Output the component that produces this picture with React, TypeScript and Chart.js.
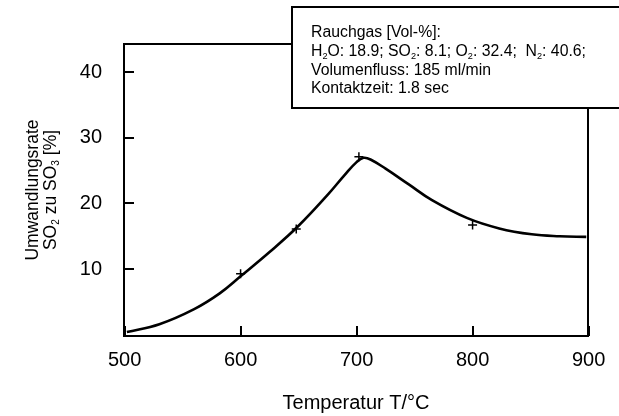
import React, { useEffect, useRef } from "react";
import { Chart, registerables } from "chart.js";

Chart.register(...registerables);

// ---- data ----
const curveT = [502, 530, 560, 582, 600, 625, 650, 675, 690, 700, 706, 712, 725, 745, 765, 795, 823, 851, 875, 898];
const curveRate = [0.4, 1.6, 3.9, 6.3, 8.9, 12.6, 16.6, 21.3, 24.4, 26.3, 26.95, 26.7, 25.3, 22.9, 20.5, 17.8, 16.2, 15.3, 15.0, 14.9];
const measT = [600, 648, 702, 800];
const measRate = [9.3, 16.1, 27.1, 16.7];
const xTicks = [500, 600, 700, 800, 900];
const yTicks = [10, 20, 30, 40];
const xTitle = "Temperatur T/°C";
const yTitleLines = ["Umwandlungsrate", "SO_2 zu SO_3 [%]"];
const boxLines = [
  "Rauchgas [Vol-%]:",
  "H_2O: 18.9; SO_2: 8.1; O_2: 32.4;  N_2: 40.6;",
  "Volumenfluss: 185 ml/min",
  "Kontaktzeit: 1.8 sec",
];

const FONT = '"Liberation Sans", Arial, Helvetica, sans-serif';

type Seg = { t: string; sub: boolean };
function parseRich(s: string): Seg[] {
  const segs: Seg[] = [];
  let buf = "";
  for (let i = 0; i < s.length; i++) {
    if (s[i] === "_" && i + 1 < s.length) {
      if (buf) segs.push({ t: buf, sub: false });
      buf = "";
      segs.push({ t: s[i + 1], sub: true });
      i++;
    } else buf += s[i];
  }
  if (buf) segs.push({ t: buf, sub: false });
  return segs;
}
function richWidth(ctx: CanvasRenderingContext2D, segs: Seg[], size: number) {
  let w = 0;
  for (const s of segs) {
    ctx.font = `${s.sub ? size * 0.58 : size}px ${FONT}`;
    w += ctx.measureText(s.t).width;
  }
  return w;
}
function drawRich(ctx: CanvasRenderingContext2D, segs: Seg[], x: number, y: number, size: number) {
  let cx = x;
  for (const s of segs) {
    ctx.font = `${s.sub ? size * 0.58 : size}px ${FONT}`;
    ctx.fillText(s.t, cx, s.sub ? y + size * 0.22 : y);
    cx += ctx.measureText(s.t).width;
  }
}

const framePlugin = {
  id: "frameAndNotes",
  afterDraw(chart: any) {
    const ctx: CanvasRenderingContext2D = chart.ctx;
    const { left, right, top, bottom } = chart.chartArea;
    const xs = chart.scales.x;
    const ys = chart.scales.y;
    ctx.save();
    ctx.strokeStyle = "#000";
    ctx.fillStyle = "#000";
    ctx.lineWidth = 2;
    ctx.strokeRect(left, top, right - left, bottom - top);
    // inward ticks
    ctx.beginPath();
    for (const v of xTicks) {
      const px = Math.round(xs.getPixelForValue(v));
      ctx.moveTo(px, bottom);
      ctx.lineTo(px, bottom - 10);
    }
    for (const v of yTicks) {
      const py = Math.round(ys.getPixelForValue(v));
      ctx.moveTo(left, py);
      ctx.lineTo(left + 10, py);
    }
    ctx.stroke();

    // info box
    ctx.fillStyle = "#fff";
    ctx.fillRect(292, 7, 340, 101);
    ctx.strokeRect(292, 7, 340, 101);
    ctx.fillStyle = "#000";
    ctx.textAlign = "left";
    ctx.textBaseline = "alphabetic";
    const bSize = 15.8;
    boxLines.forEach((ln, i) => {
      drawRich(ctx, parseRich(ln), 311, 37 + i * 18.8, bSize);
    });

    // x title
    ctx.font = `20px ${FONT}`;
    ctx.textAlign = "center";
    ctx.fillText(xTitle, (left + right) / 2, 409);

    // y title (rotated)
    const ySize = 17.5;
    const cy = (top + bottom) / 2;
    yTitleLines.forEach((ln, i) => {
      const segs = parseRich(ln);
      const w = richWidth(ctx, segs, ySize);
      ctx.save();
      ctx.translate(38 + i * 17.5, cy);
      ctx.rotate(-Math.PI / 2);
      ctx.textAlign = "left";
      drawRich(ctx, segs, -w / 2, 0, ySize);
      ctx.restore();
    });
    ctx.restore();
  },
};

export default function App() {
  const ref = useRef<HTMLCanvasElement | null>(null);
  useEffect(() => {
    if (!ref.current) return;
    const chart = new Chart(ref.current, {
      type: "scatter",
      data: {
        datasets: [
          {
            type: "line",
            data: curveT.map((x, i) => ({ x, y: curveRate[i] })),
            borderColor: "#000",
            borderWidth: 2.6,
            pointRadius: 0,
            fill: false,
            tension: 0.4,
          } as any,
          {
            data: measT.map((x, i) => ({ x, y: measRate[i] })),
            pointStyle: "cross",
            pointRadius: 4.5,
            borderColor: "#000",
            backgroundColor: "#000",
            borderWidth: 1.5,
            showLine: false,
          },
        ],
      },
      options: {
        animation: false,
        responsive: true,
        maintainAspectRatio: false,
        layout: { padding: { left: 0, right: 31, top: 44, bottom: 0 } },
        plugins: { legend: { display: false }, tooltip: { enabled: false } },
        scales: {
          x: {
            type: "linear",
            min: 499.5,
            max: 899.5,
            afterBuildTicks: (s: any) => {
              s.ticks = xTicks.map((v) => ({ value: v }));
            },
            afterFit: (s: any) => {
              s.height = 80;
            },
            grid: { display: false, drawTicks: false },
            border: { display: false },
            ticks: {
              font: { family: FONT, size: 20 },
              color: "#000",
              padding: 12,
              maxRotation: 0,
              autoSkip: false,
            },
          },
          y: {
            type: "linear",
            min: -0.2,
            max: 44.3,
            afterBuildTicks: (s: any) => {
              s.ticks = yTicks.map((v) => ({ value: v }));
            },
            afterFit: (s: any) => {
              s.width = 124;
            },
            grid: { display: false, drawTicks: false },
            border: { display: false },
            ticks: {
              font: { family: FONT, size: 20 },
              color: "#000",
              padding: 22,
              autoSkip: false,
            },
          },
        },
      },
      plugins: [framePlugin],
    } as any);
    return () => chart.destroy();
  }, []);
  return (
    <div style={{ position: "fixed", left: 0, top: 0, width: 619, height: 416, background: "#fff" }}>
      <canvas ref={ref} />
    </div>
  );
}
